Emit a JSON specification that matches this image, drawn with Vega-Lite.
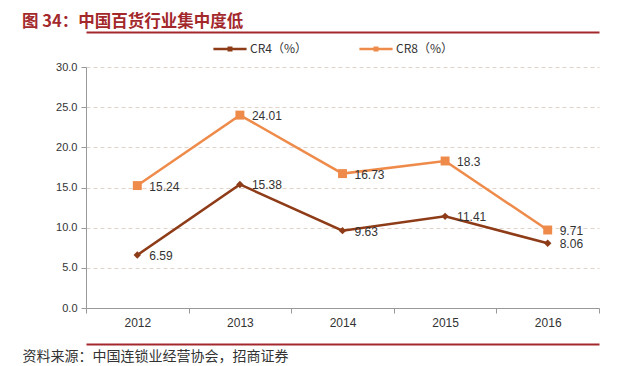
{
  "$schema": "https://vega.github.io/schema/vega-lite/v6.json",
  "autosize": {"type": "fit", "contains": "padding"},
  "width": 640,
  "height": 366,
  "padding": {"left": 22, "right": 40, "top": 13, "bottom": 3},
  "background": "white",
  "config": {
    "view": {"stroke": null},
    "font": "Noto Sans CJK SC",
    "axisY": {
      "title": null, "values": [0, 5, 10, 15, 20, 25, 30], "format": ".1f",
      "grid": true, "gridDash": [4, 3], "gridColor": "#E2D2C8",
      "domainColor": "#999999", "tickColor": "#999999", "tickSize": 5,
      "labelColor": "#333333", "labelFont": "Liberation Sans", "labelFontSize": 11, "labelPadding": 4
    }
  },
  "title": {
    "text": "图 34：中国百货行业集中度低",
    "anchor": "start",
    "frame": "group",
    "dx": -64,
    "offset": 2,
    "font": "Noto Sans CJK SC",
    "fontSize": 16.5,
    "fontWeight": "bold",
    "color": "#A3282C"
  },
  "data": {
    "values": [
      {"year": "2012", "series": "CR4（%）", "value": 6.59},
      {"year": "2013", "series": "CR4（%）", "value": 15.38},
      {"year": "2014", "series": "CR4（%）", "value": 9.63},
      {"year": "2015", "series": "CR4（%）", "value": 11.41},
      {"year": "2016", "series": "CR4（%）", "value": 8.06},
      {"year": "2012", "series": "CR8（%）", "value": 15.24},
      {"year": "2013", "series": "CR8（%）", "value": 24.01},
      {"year": "2014", "series": "CR8（%）", "value": 16.73},
      {"year": "2015", "series": "CR8（%）", "value": 18.3},
      {"year": "2016", "series": "CR8（%）", "value": 9.71}
    ]
  },
  "layer": [
    {
      "mark": {"type": "line", "strokeWidth": 2.5},
      "encoding": {
        "x": {
          "field": "year", "type": "ordinal",
          "scale": {"type": "band", "paddingInner": 0, "paddingOuter": 0},
          "axis": {
            "orient": "bottom", "title": null, "labelAngle": 0,
            "tickBand": "extent", "tickSize": 5, "tickColor": "#999999",
            "domainColor": "#999999", "labelColor": "#333333",
            "labelFont": "Liberation Sans", "labelFontSize": 12, "labelPadding": 4, "grid": false
          }
        },
        "y": {
          "field": "value", "type": "quantitative",
          "scale": {"domain": [0, 30], "nice": false}
        },
        "color": {
          "field": "series", "type": "nominal",
          "scale": {"domain": ["CR4（%）", "CR8（%）"], "range": ["#8E3B17", "#EE8B4A"]},
          "legend": {
            "title": null, "orient": "none", "direction": "horizontal",
            "legendX": 127, "legendY": -35,
            "symbolType": "M-1,-0.08L1,-0.08L1,0.08L-1,0.08Z M-0.15,-0.15L0.15,-0.15L0.15,0.15L-0.15,0.15Z",
            "symbolSize": 1100, "symbolStrokeWidth": 0,
            "labelFont": "Noto Sans CJK SC", "labelFontSize": 12, "labelColor": "#333333",
            "columnPadding": 52, "labelOffset": 3
          }
        }
      }
    },
    {
      "transform": [{"filter": "datum.series === 'CR4（%）'"}],
      "mark": {"type": "point", "shape": "diamond", "filled": true, "opacity": 1, "size": 55},
      "encoding": {
        "x": {
          "field": "year", "type": "ordinal",
          "axis": {
            "orient": "bottom", "offset": 36, "labels": false, "ticks": false, "grid": false,
            "domainColor": "#A3282C", "domainWidth": 2,
            "title": "资料来源：中国连锁业经营协会，招商证券",
            "titleX": -64, "titleAlign": "left", "titleAnchor": "start", "titlePadding": 5,
            "titleFont": "Noto Sans CJK SC", "titleFontSize": 14, "titleFontWeight": "normal", "titleColor": "#333333"
          }
        },
        "y": {"field": "value", "type": "quantitative"},
        "color": {"field": "series", "type": "nominal", "legend": null}
      }
    },
    {
      "transform": [{"filter": "datum.series === 'CR8（%）'"}],
      "mark": {"type": "point", "shape": "square", "filled": true, "opacity": 1, "size": 80},
      "encoding": {
        "x": {"field": "year", "type": "ordinal", "axis": null},
        "y": {"field": "value", "type": "quantitative"},
        "color": {"field": "series", "type": "nominal", "legend": null}
      }
    },
    {
      "mark": {"type": "text", "align": "left", "baseline": "middle", "dx": 12, "dy": 1, "fontSize": 12, "font": "Liberation Sans", "color": "#333333"},
      "encoding": {
        "x": {
          "field": "year", "type": "ordinal",
          "axis": {
            "orient": "top", "offset": 35, "labels": false, "ticks": false, "grid": false,
            "domainColor": "#A3282C", "domainWidth": 2, "title": null
          }
        },
        "y": {"field": "value", "type": "quantitative"},
        "text": {"field": "value", "type": "quantitative"}
      }
    }
  ],
  "resolve": {"axis": {"x": "independent"}}
}
